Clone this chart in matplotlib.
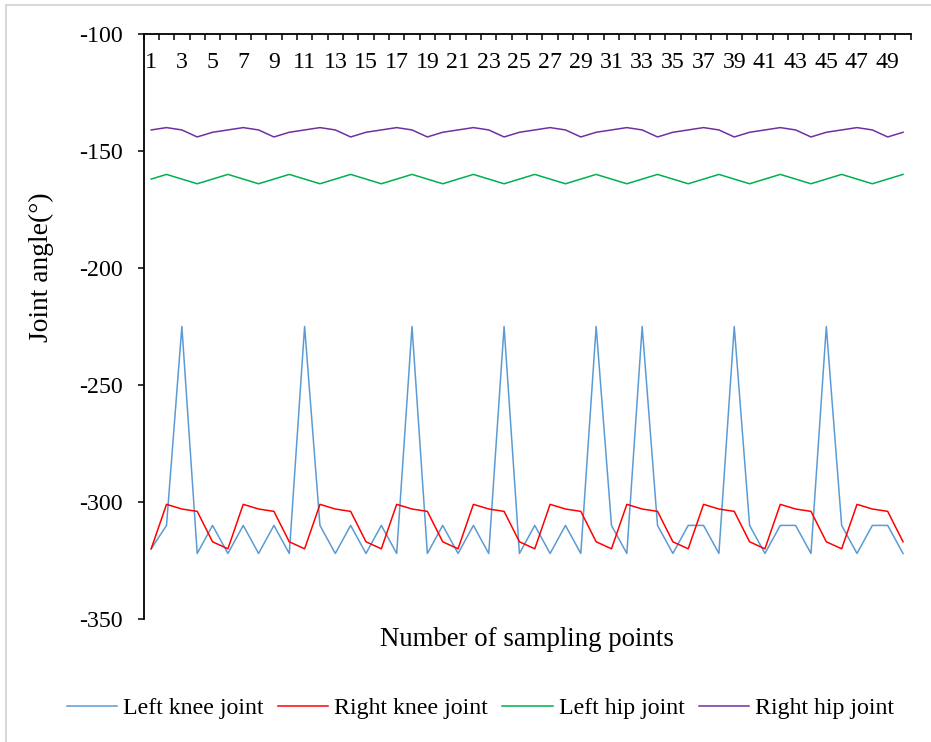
import matplotlib
matplotlib.use("Agg")
import matplotlib.pyplot as plt
from matplotlib.patches import Rectangle
import matplotlib.transforms as mtransforms

plt.rcParams['font.family'] = ['Liberation Serif', 'DejaVu Serif']
plt.rcParams['axes.unicode_minus'] = False

samples = list(range(1, 51))
left_knee = [-320, -310, -225, -322, -310, -322, -310, -322, -310, -322,
             -225, -310, -322, -310, -322, -310, -322, -225, -322, -310,
             -322, -310, -322, -225, -322, -310, -322, -310, -322, -225,
             -310, -322, -225, -310, -322, -310, -310, -322, -225, -310,
             -322, -310, -310, -322, -225, -310, -322, -310, -310, -322]
right_knee = [-320, -301, -303, -304, -317] * 10
left_hip = [-162, -160, -162, -164] * 12 + [-162, -160]
right_hip = [-141, -140, -141, -144, -142] * 10
series_names = ["Left knee joint", "Right knee joint", "Left hip joint", "Right hip joint"]
colors = ["#5B9BD5", "#FF0000", "#00B050", "#7030A0"]
y_ticks = [-100, -150, -200, -250, -300, -350]

W, H = 931, 742
fig = plt.figure(figsize=(W / 100, H / 100), dpi=100)
ax = fig.add_axes([143.5 / W, 1 - 619 / H, (910.7 - 143.5) / W, (619 - 34) / H])

fs = 17.2
fs_title = 19.3
for data, name, c in zip([left_knee, right_knee, left_hip, right_hip], series_names, colors):
    ax.plot(samples, data, color=c, lw=1.1, label=name)

ax.set_xlim(0.5, 50.5)
ax.set_ylim(-350, -100)
ax.set_yticks(y_ticks)
ax.set_yticklabels([str(v) for v in y_ticks], fontsize=fs)
ax.tick_params(axis='y', direction='out', length=4.5, width=1.1, pad=10.5, color='black')

# x axis on top: boundary ticks pointing inward, labels inside
ax.set_xticks([i + 0.5 for i in range(0, 51)])
ax.set_xticklabels([])
ax.tick_params(axis='x', top=True, bottom=False, labeltop=False, labelbottom=False,
               direction='in', length=4.5, width=1.1, color='black')
trans = mtransforms.blended_transform_factory(ax.transData, ax.transAxes)
for s in samples[::2]:
    ax.text(s, (619 - 62) / 585, str(s), transform=trans, ha='center', va='center', fontsize=fs)

for side in ['right', 'bottom']:
    ax.spines[side].set_visible(False)
for side in ['left', 'top']:
    ax.spines[side].set_linewidth(1.3)
    ax.spines[side].set_color('black')

fig.text(527 / W, 1 - 640 / H, "Number of sampling points", ha='center', va='center', fontsize=fs_title)
fig.text(41 / W, 1 - 267 / H, "Joint angle(°)", ha='center', va='center', rotation=90, fontsize=19.8)

fig.legend(loc='center', bbox_to_anchor=(480.5 / W, 1 - 708 / H), ncol=4, frameon=False,
           fontsize=fs, handlelength=2.1, handletextpad=0.25, columnspacing=0.6)

fig.patches.append(Rectangle((6 / W, -0.1), 2, 1.1 - 5 / H, fill=False, edgecolor='#d9d9d9',
                             lw=1.5, transform=fig.transFigure))

fig.savefig("out.png", dpi=100)
